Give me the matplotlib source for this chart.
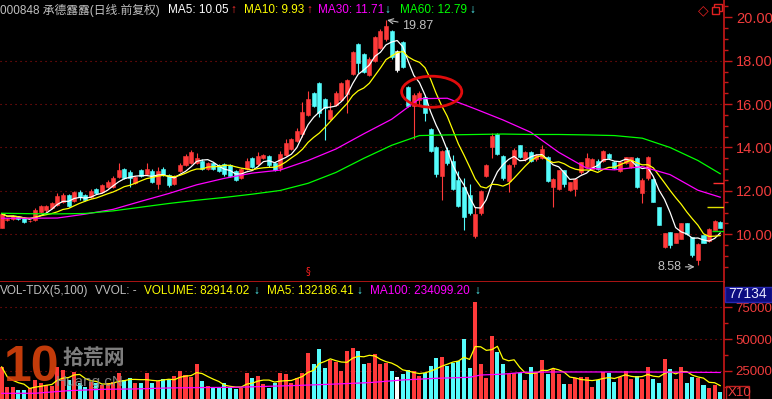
import numpy as np
import pandas as pd
import matplotlib
matplotlib.use("Agg")
import matplotlib.pyplot as plt
from matplotlib.patches import Ellipse, Rectangle

# daily candles, 000848
opens = [10.30, 10.65, 10.72, 10.82, 10.75, 10.60, 10.65, 11.05, 11.10, 11.20,
         11.35, 11.50, 11.80, 11.55, 11.95, 11.80, 11.70, 12.10, 11.95, 12.20,
         12.20, 12.65, 13.00, 12.85, 12.35, 12.95, 12.80, 12.90, 12.30, 13.00,
         12.75, 12.30, 12.90, 13.20, 13.30, 13.30, 13.40, 13.00, 13.30, 13.20,
         13.25, 13.20, 12.90, 12.60, 13.00, 13.50, 13.25, 13.50, 13.60, 13.30,
         13.05, 13.65, 13.95, 14.30, 14.60, 15.50, 16.50, 16.95, 16.25, 15.30,
         15.95, 16.20, 16.45, 17.40, 18.75, 18.30, 17.35, 18.00, 18.60, 19.00,
         19.35, 17.55, 18.85, 16.80, 15.90, 16.20, 16.35, 14.85, 14.00, 12.70,
         13.90, 13.40, 12.50, 12.20, 11.80, 9.90, 11.00, 12.70, 14.00, 14.60,
         13.60, 12.45, 13.25, 14.10, 13.45, 13.80, 13.45, 13.50, 13.55, 12.20,
         12.10, 12.95, 12.05, 12.10, 12.85, 13.10, 13.00, 13.40, 13.40, 13.70,
         13.35, 12.90, 13.30, 13.10, 13.50, 11.90, 12.60, 12.55, 11.25, 9.40,
         10.10, 9.60, 9.80, 10.50, 9.88, 8.80, 9.95, 9.70, 10.20, 10.55]
highs = [10.97, 10.76, 10.88, 10.86, 10.78, 10.68, 11.20, 11.35, 11.35, 11.50,
         11.90, 11.90, 11.85, 12.00, 12.05, 11.85, 12.10, 12.15, 12.30, 12.50,
         12.70, 13.30, 13.05, 12.95, 12.70, 13.00, 13.30, 13.00, 13.10, 13.10,
         12.80, 12.75, 13.30, 13.70, 13.90, 13.75, 13.45, 13.35, 13.35, 13.25,
         13.30, 13.25, 12.95, 13.05, 13.50, 13.55, 13.80, 13.70, 13.65, 13.35,
         13.85, 14.40, 14.45, 14.90, 16.10, 16.60, 16.55, 17.00, 16.30, 16.10,
         16.60, 17.00, 17.15, 18.45, 18.80, 18.35, 18.15, 19.15, 19.45, 19.87,
         19.40, 18.50, 18.90, 16.85, 16.50, 16.60, 16.40, 14.90, 14.05, 13.90,
         14.00, 13.65, 12.90, 12.60, 12.30, 11.25, 12.05, 13.25, 14.65, 14.65,
         13.65, 13.25, 13.96, 14.12, 13.85, 13.85, 13.70, 14.12, 13.60, 12.60,
         12.96, 12.96, 12.43, 12.58, 13.35, 13.73, 13.50, 13.45, 13.88, 13.75,
         13.40, 13.40, 13.58, 13.58, 13.58, 12.58, 13.60, 12.58, 11.27, 10.05,
         10.12, 10.07, 10.54, 10.54, 9.89, 9.60, 9.97, 10.27, 10.65, 10.60]
lows = [10.28, 10.60, 10.68, 10.68, 10.50, 10.56, 10.60, 11.00, 11.05, 11.15,
        11.30, 11.45, 11.25, 11.50, 11.60, 11.55, 11.65, 11.85, 11.90, 12.15,
        12.15, 12.60, 12.55, 12.20, 12.30, 12.65, 12.75, 12.35, 12.10, 12.70,
        12.20, 12.25, 12.85, 13.15, 13.25, 13.25, 12.95, 12.95, 12.95, 12.85,
        12.70, 12.65, 12.45, 12.55, 12.95, 13.05, 13.20, 13.45, 13.10, 12.90,
        12.90, 13.60, 13.90, 14.25, 14.50, 15.45, 15.85, 15.40, 14.35, 15.25,
        15.90, 16.15, 15.60, 17.35, 17.45, 17.45, 17.30, 17.95, 18.55, 18.90,
        18.10, 17.50, 17.65, 15.85, 14.40, 15.90, 15.20, 13.80, 12.66, 11.60,
        13.20, 12.05, 11.25, 10.20, 10.90, 9.81, 10.90, 12.65, 13.50, 13.65,
        12.50, 11.97, 13.10, 13.50, 13.40, 13.35, 13.40, 13.45, 12.42, 11.27,
        12.04, 12.20, 12.00, 11.75, 12.80, 13.04, 12.96, 12.95, 13.35, 13.45,
        13.00, 12.85, 13.25, 13.05, 12.12, 11.43, 12.50, 11.50, 10.43, 9.35,
        9.35, 9.58, 9.77, 9.97, 8.97, 8.58, 9.58, 9.66, 10.20, 10.30]
closes = [10.95, 10.72, 10.85, 10.72, 10.55, 10.63, 11.10, 11.30, 11.30, 11.45,
          11.75, 11.80, 11.30, 11.95, 11.70, 11.60, 12.00, 11.90, 12.25, 12.40,
          12.60, 12.95, 12.60, 12.60, 12.65, 12.70, 13.00, 12.40, 12.90, 12.75,
          12.25, 12.70, 13.20, 13.60, 13.80, 13.50, 13.00, 13.30, 13.00, 12.90,
          12.80, 12.70, 12.50, 13.00, 13.40, 13.10, 13.60, 13.65, 13.20, 12.95,
          13.70, 14.20, 14.40, 14.75, 15.65, 16.25, 15.90, 15.60, 15.80, 15.75,
          16.50, 16.95, 17.10, 18.40, 17.90, 17.50, 18.10, 19.10, 19.35, 19.60,
          18.15, 18.45, 17.70, 15.90, 16.40, 16.50, 15.60, 13.85, 12.80, 13.85,
          13.30, 12.10, 11.30, 10.80, 11.00, 10.95, 12.00, 13.20, 14.55, 13.70,
          12.60, 13.20, 13.90, 13.55, 13.80, 13.40, 13.65, 13.95, 12.45, 12.55,
          12.95, 12.30, 12.40, 12.55, 13.35, 13.50, 13.45, 13.00, 13.85, 13.50,
          13.05, 13.35, 13.55, 13.55, 12.20, 12.50, 13.55, 11.50, 10.45, 10.05,
          9.50, 10.05, 10.50, 10.00, 9.05, 9.55, 9.60, 10.25, 10.60, 10.30]
# volume, in axis units (x10)
volumes = [28000, 12400, 11900, 9800, 9800, 11000, 17700, 15000, 14000, 13000,
           28150, 25500, 17300, 24300, 15000, 12400, 16100, 15000, 14000, 15000,
           16000, 22900, 17700, 19000, 15000, 15000, 22900, 15000, 17100, 18200,
           18200, 20800, 24800, 21600, 20300, 30000, 16900, 13200, 11100, 11100,
           15600, 12400, 10300, 11100, 22900, 19000, 20800, 14200, 11100, 15000,
           22900, 22400, 15000, 19000, 22900, 39200, 30300, 41900, 27000, 33300,
           32000, 25000, 40800, 43200, 40600, 30300, 30800, 38200, 30000, 31300,
           24800, 19800, 22400, 25600, 25000, 20800, 22900, 28700, 34700, 35500,
           28700, 31300, 32900, 49700, 26900, 79400, 30300, 19000, 52400, 40000,
           30300, 22400, 22900, 22900, 17700, 28200, 24200, 33400, 22400, 26100,
           22400, 14500, 14500, 19000, 19800, 20300, 12400, 17700, 24200, 23400,
           16400, 19800, 25000, 18200, 20800, 18200, 27700, 18500, 15600, 34000,
           26100, 18200, 27700, 15600, 19800, 19000, 13700, 11100, 14000, 8300]

# long averages
ma_idx = [0, 5, 10, 15, 20, 25, 30, 35, 40, 45, 50, 55, 60, 65, 70, 75, 80,
          85, 90, 95, 100, 105, 110, 115, 120, 125, 129]
ma30 = [10.74, 10.74, 10.75, 10.93, 11.15, 11.52, 11.88, 12.28, 12.58, 12.82,
        12.96, 13.40, 13.93, 14.63, 15.30, 16.25, 16.27, 15.78, 15.27, 14.70,
        13.78, 13.05, 12.97, 13.12, 12.75, 12.03, 11.71]
ma60 = [10.97, 10.95, 10.94, 10.96, 11.08, 11.25, 11.42, 11.57, 11.70, 11.85,
        12.02, 12.35, 12.85, 13.50, 14.10, 14.55, 14.58, 14.60, 14.62, 14.60,
        14.60, 14.58, 14.55, 14.43, 14.00, 13.40, 12.79]
vma_idx = [0, 6, 12, 18, 24, 30, 36, 42, 48, 54, 60, 66, 72, 78, 84, 86, 90,
           94, 100, 110, 120, 129]
vma100 = [7150, 7200, 9250, 10300, 10600, 11400, 11700, 11900, 12700, 13500,
          14500, 15600, 17700, 19000, 19800, 21600, 22300, 23800, 24000, 24000,
          23900, 23600]

price_ticks = [10, 12, 14, 16, 18, 20]
vol_ticks = [25000, 50000, 75000]
stub_levels = [12.35, 11.25, 10.15]
peak_i, peak_p = 69, 19.87
low_i, low_p = 125, 8.58

W, H = 772, 399
RED = '#ff3a3a'
CYAN = '#54fcfc'
AXRED = '#c81818'
GRIDRED = '#9a1010'
GRAY = '#c0c0c0'
FONTS = ['Liberation Sans', 'Noto Sans CJK SC', 'DejaVu Sans']

idx = np.arange(len(closes))
o = np.array(opens)
c = np.array(closes)
colors = [RED if cc >= oo else CYAN for oo, cc in zip(o, c)]
colors[71] = '#ffffff'

fig = plt.figure(figsize=(W / 100, H / 100), dpi=100, facecolor='black')


def px(x, y):
    return x / W, 1 - y / H


def ftext(x, y, s, color, size=8.5, **kw):
    fig.text(x / W, 1 - y / H, s, color=color, fontsize=size, va='center',
             ha='left', family=FONTS, **kw)


split = 281.5
ax = fig.add_axes([0, 1 - split / H, 724 / W, split / H], facecolor='black')
axv = fig.add_axes([0, 0, 724 / W, (H - split) / H], facecolor='black')

xlim = (-0.305, 129.68)

# ---- price panel
ax.set_xlim(*xlim)
ax.set_ylim(7.825, 20.797)
for p in price_ticks[:-1]:
    ax.axhline(p, color=GRIDRED, lw=0.8, ls=(0, (1, 3.5)), zorder=0)
ax.vlines(idx, lows, highs, colors=colors, lw=0.8, zorder=2)
ax.bar(idx, c - o, bottom=o, width=0.72, color=colors, edgecolor=colors,
       linewidth=0.4, zorder=3)

ma5 = pd.Series(closes).rolling(5, min_periods=1).mean()
ma10 = pd.Series(closes).rolling(10, min_periods=1).mean()
ax.plot(idx, ma5, color='white', lw=0.9, zorder=4)
ax.plot(idx, ma10, color='#ffff00', lw=0.9, zorder=4)
ax.plot(ma_idx, ma30, color='#ff00ff', lw=0.9, zorder=4)
ax.plot(ma_idx, ma60, color='#00ff00', lw=0.9, zorder=4)

for lvl, col, x0 in zip(stub_levels, ['#ff3030', '#e0e000', '#00e000'], [127.7, 126.6, 127.5]):
    ax.hlines(lvl, x0, xlim[1], color=col, lw=1, zorder=4)

ax.add_patch(Ellipse((77.2, 16.57), 10.8, 1.43, fill=False, edgecolor='#e00c0c',
                     lw=2, zorder=6))
ax.annotate('19.87', xy=(peak_i + 0.2, peak_p), xytext=(71.9, 19.62),
            color=GRAY, fontsize=9, family=FONTS, ha='left', va='center',
            arrowprops=dict(arrowstyle='->', color=GRAY, lw=0.8,
                            shrinkA=1, shrinkB=0))
ax.annotate('8.58', xy=(low_i - 0.6, 8.5), xytext=(122.0, 8.5),
            color=GRAY, fontsize=9, family=FONTS, ha='right', va='center',
            arrowprops=dict(arrowstyle='->', color=GRAY, lw=0.8,
                            shrinkA=1, shrinkB=0))
ax.text(55, 8.3, '§', color='#ff2020', fontsize=7, ha='center', va='center',
        family=['DejaVu Sans'])

ax.yaxis.tick_right()
ax.set_yticks(price_ticks)
ax.set_yticklabels(['%.2f' % t for t in price_ticks])
ax.set_yticks(np.arange(8.5, 20.6, 0.5), minor=True)
ax.tick_params(axis='y', which='major', colors=AXRED, labelcolor='#f03c3c',
               length=6, width=1, labelsize=10.5, pad=2.5)
ax.tick_params(axis='y', which='minor', colors=AXRED, length=3, width=1)
for lab in ax.get_yticklabels():
    lab.set_family(FONTS)
ax.set_xticks([])
for s in ['left', 'top']:
    ax.spines[s].set_visible(False)
ax.spines['right'].set_color(AXRED)
ax.spines['bottom'].set_color(AXRED)
ax.spines['right'].set_linewidth(1.2)
ax.spines['bottom'].set_linewidth(1.2)

# ---- volume panel
axv.set_xlim(*xlim)
axv.set_ylim(2680, 95350)
for v in vol_ticks:
    axv.axhline(v, color=GRIDRED, lw=0.8, ls=(0, (1, 3.5)), zorder=0)
axv.bar(idx, volumes, width=0.72, color=colors, zorder=2)
vma5 = pd.Series(volumes).rolling(5, min_periods=1).mean()
axv.plot(idx, vma5, color='#ffff00', lw=0.9, zorder=3)
axv.plot(vma_idx, vma100, color='#ff00ff', lw=0.9, zorder=3)

axv.yaxis.tick_right()
axv.set_yticks(vol_ticks)
axv.set_yticklabels([str(v) for v in vol_ticks])
axv.set_yticks(np.arange(12500, 90000, 12500), minor=True)
axv.tick_params(axis='y', which='major', colors=AXRED, labelcolor='#f03c3c',
                length=6, width=1, labelsize=9.5, pad=2.5)
axv.tick_params(axis='y', which='minor', colors=AXRED, length=3, width=1)
for lab in axv.get_yticklabels():
    lab.set_family(FONTS)
axv.set_xticks([])
for s in ['left', 'top', 'bottom']:
    axv.spines[s].set_visible(False)
axv.spines['right'].set_color(AXRED)
axv.spines['right'].set_linewidth(1.2)

# ---- headers
ftext(0, 10, '000848 承德露露(日线.前复权)', GRAY)
ftext(168, 10, 'MA5: 10.05', 'white')
ftext(230, 10, '↑', '#ff3030')
ftext(244, 10, 'MA10: 9.93', '#ffff00')
ftext(306, 10, '↑', '#ff3030')
ftext(318, 10, 'MA30: 11.71', '#ff00ff')
ftext(384, 10, '↓', CYAN)
ftext(400, 10, 'MA60: 12.79', '#00ff00')
ftext(469, 10, '↓', CYAN)

ftext(0, 291, 'VOL-TDX(5,100)', GRAY)
ftext(95, 291, 'VVOL: -', GRAY)
ftext(144, 291, 'VOLUME: 82914.02', '#ffff00')
ftext(253, 291, '↓', CYAN)
ftext(267, 291, 'MA5: 132186.41', '#ffff00')
ftext(356, 291, '↓', CYAN)
ftext(370, 291, 'MA100: 234099.20', '#ff00ff')
ftext(474, 291, '↓', CYAN)

# icons top right
fig.text(703 / W, 1 - 10 / H, '◇', color='#e02020', fontsize=10, ha='center',
         va='center', family=['DejaVu Sans'])
for (x0, y0) in [(714, 4), (711.5, 7)]:
    fig.patches.append(Rectangle(px(x0, y0 + 7), 7.5 / W, 7 / H, fill=True,
                                 facecolor='black', edgecolor='#e02020', lw=1,
                                 transform=fig.transFigure, figure=fig))

# right side boxes
fig.patches.append(Rectangle(px(725, 302), 47 / W, 15 / H, facecolor='#0c0c80',
                             edgecolor='#2828b0', lw=1, zorder=5,
                             transform=fig.transFigure, figure=fig))
fig.text(728 / W, 1 - 294.5 / H, '77134', color='#e8e8ff', fontsize=10,
         va='center', ha='left', family=FONTS, zorder=6)
fig.patches.append(Rectangle(px(726, 399), 23 / W, 13 / H, fill=False,
                             edgecolor='#c02020', lw=1,
                             transform=fig.transFigure, figure=fig))
ftext(728, 393, 'X10', '#f03c3c', size=9.5)

# watermark of the source site
ftext(4, 368, '10', '#d8420c', size=36, fontweight='bold', alpha=0.9,
      fontstretch='condensed')
ftext(62, 359, '拾荒网', '#8c8c8c', size=15, fontweight='bold', alpha=0.9)
ftext(56, 382, 'Huang.cN', '#8c8c8c', size=11, alpha=0.9)

fig.savefig('out.png', dpi=100, facecolor='black')
